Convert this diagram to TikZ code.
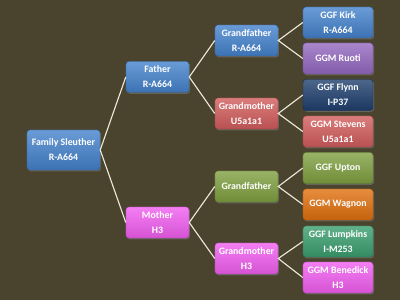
\documentclass[tikz,border=0pt]{standalone}
\usepackage{fontspec}
\setmainfont{Carlito}
\usetikzlibrary{shadows}
\definecolor{Board}{HTML}{4A432E}
\definecolor{Cream}{HTML}{EEEAD8}
\definecolor{Blue}{HTML}{4482CC}
\definecolor{Purple}{HTML}{9468C0}
\definecolor{Navy}{HTML}{1F3F6E}
\definecolor{Rose}{HTML}{D25C5C}
\definecolor{Pink}{HTML}{F25EF0}
\definecolor{Olive}{HTML}{7FA040}
\definecolor{Amber}{HTML}{E0700E}
\definecolor{Jade}{HTML}{3A9E6E}

\tikzset{
  member/.style={rounded corners=2pt,minimum width=1.575cm,minimum height=0.775cm,
    inner sep=1pt,align=center,text=white,
    font=\bfseries\fontsize{7}{10.7}\selectfont,
    top color=#1!80!white,bottom color=#1!88!black,draw=#1!70!black,line width=0.3pt,
    drop shadow={shadow xshift=0.7pt,shadow yshift=-0.9pt,opacity=0.55}},
  elder/.style={member=#1,minimum width=1.75cm},
  link/.style={draw=Cream,line width=0.8pt}
}

\begin{document}
\begin{tikzpicture}[x=0.025cm,y=-0.025cm]
\useasboundingbox[fill=Board] (0,0) rectangle (400,300);

% generations, left to right
\node[member=Blue,minimum width=1.825cm,minimum height=1cm] (self) at (63.5,150) {Family Sleuther\\R-A664};

\node[member=Blue] (father) at (157.5,77) {Father\\R-A664};
\node[member=Pink] (mother) at (157.5,222.5) {Mother\\H3};

\node[member=Blue] (patGF) at (246.5,40.5) {Grandfather\\R-A664};
\node[member=Rose] (patGM) at (246.5,113.5) {Grandmother\\U5a1a1};
\node[member=Olive] (matGF) at (246.5,186.5) {Grandfather};
\node[member=Pink] (matGM) at (246.5,258.5) {Grandmother\\H3};

\node[elder=Blue] (kirk) at (338,22.5) {GGF Kirk\\R-A664};
\node[elder=Purple] (ruoti) at (338,58.5) {GGM Ruoti};
\node[elder=Navy] (flynn) at (338,95) {GGF Flynn\\I-P37};
\node[elder=Rose] (stevens) at (338,131.5) {GGM Stevens\\U5a1a1};
\node[elder=Olive] (upton) at (338,168) {GGF Upton};
\node[elder=Amber] (wagnon) at (338,204.5) {GGM Wagnon};
\node[elder=Jade] (lumpkins) at (338,241.5) {GGF Lumpkins\\I-M253};
\node[elder=Pink] (benedick) at (338,277.5) {GGM Benedick\\H3};

% connectors
\draw[link] (father.west) -- (self.east) -- (mother.west);
\draw[link] (patGF.west) -- (father.east) -- (patGM.west);
\draw[link] (matGF.west) -- (mother.east) -- (matGM.west);
\draw[link] (kirk.west) -- (patGF.east) -- (ruoti.west);
\draw[link] (flynn.west) -- (patGM.east) -- (stevens.west);
\draw[link] (upton.west) -- (matGF.east) -- (wagnon.west);
\draw[link] (lumpkins.west) -- (matGM.east) -- (benedick.west);
\end{tikzpicture}
\end{document}
